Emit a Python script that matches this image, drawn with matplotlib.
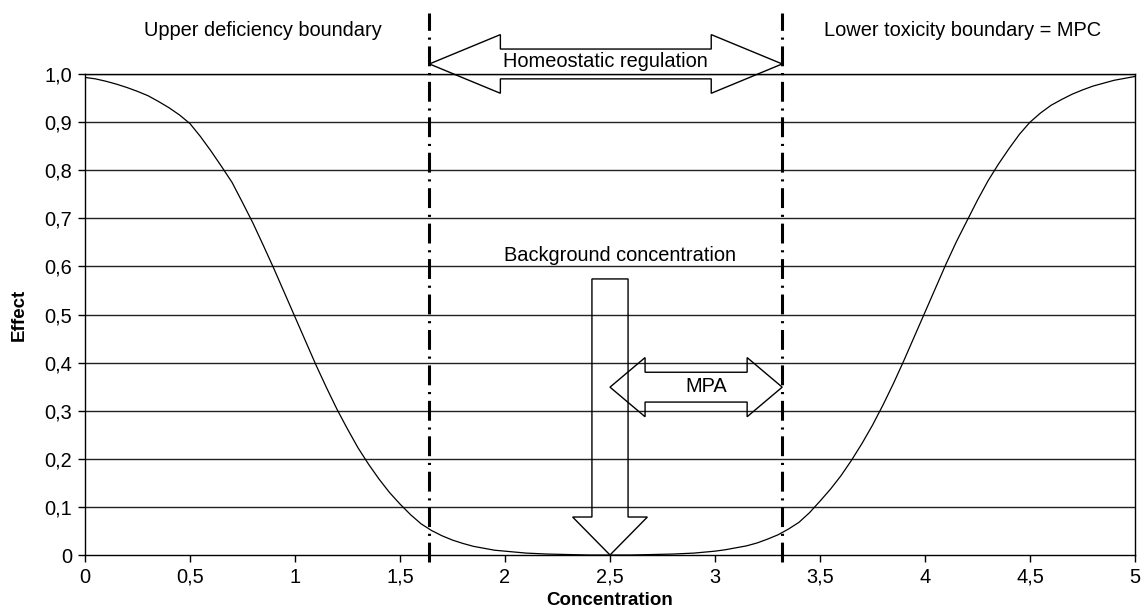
import matplotlib
matplotlib.use("Agg")
import matplotlib.pyplot as plt
from matplotlib.patches import Polygon

plt.rcParams['font.family'] = ['Liberation Sans', 'DejaVu Sans']

# effect curve (step 0.05)
concentration = [0.00, 0.05, 0.10, 0.15, 0.20, 0.25, 0.30, 0.35, 0.40, 0.45,
                 0.50, 0.55, 0.60, 0.65, 0.70, 0.75, 0.80, 0.85, 0.90, 0.95,
                 1.00, 1.05, 1.10, 1.15, 1.20, 1.25, 1.30, 1.35, 1.40, 1.45,
                 1.50, 1.55, 1.60, 1.65, 1.70, 1.75, 1.80, 1.85, 1.90, 1.95,
                 2.00, 2.05, 2.10, 2.15, 2.20, 2.30, 2.40, 2.50, 2.60, 2.70,
                 2.80, 2.85, 2.90, 2.95, 3.00, 3.05, 3.10, 3.15, 3.20, 3.25,
                 3.30, 3.35, 3.40, 3.45, 3.50, 3.55, 3.60, 3.65, 3.70, 3.75,
                 3.80, 3.85, 3.90, 3.95, 4.00, 4.05, 4.10, 4.15, 4.20, 4.25,
                 4.30, 4.35, 4.40, 4.45, 4.50, 4.55, 4.60, 4.65, 4.70, 4.75,
                 4.80, 4.85, 4.90, 4.95, 5.00]
effect = [0.993, 0.990, 0.985, 0.979, 0.972, 0.964, 0.955, 0.943, 0.930, 0.915,
          0.897, 0.870, 0.840, 0.808, 0.775, 0.733, 0.690, 0.643, 0.595, 0.545,
          0.495, 0.445, 0.395, 0.348, 0.303, 0.262, 0.223, 0.189, 0.158, 0.130,
          0.106, 0.084, 0.065, 0.051, 0.040, 0.031, 0.024, 0.018, 0.014, 0.010,
          0.008, 0.006, 0.004, 0.003, 0.002, 0.001, 0.000, 0.000, 0.000, 0.001,
          0.002, 0.003, 0.004, 0.006, 0.008, 0.011, 0.015, 0.019, 0.025, 0.033,
          0.042, 0.054, 0.068, 0.088, 0.112, 0.137, 0.165, 0.197, 0.232, 0.270,
          0.312, 0.357, 0.405, 0.455, 0.505, 0.555, 0.605, 0.652, 0.695, 0.738,
          0.778, 0.813, 0.845, 0.875, 0.900, 0.919, 0.935, 0.947, 0.958, 0.967,
          0.975, 0.981, 0.987, 0.991, 0.995]

x_ticks = [0, 0.5, 1, 1.5, 2, 2.5, 3, 3.5, 4, 4.5, 5]
x_tick_labels = ['0', '0,5', '1', '1,5', '2', '2,5', '3', '3,5', '4', '4,5', '5']
y_ticks = [0, 0.1, 0.2, 0.3, 0.4, 0.5, 0.6, 0.7, 0.8, 0.9, 1.0]
y_tick_labels = ['0', '0,1', '0,2', '0,3', '0,4', '0,5', '0,6', '0,7', '0,8', '0,9', '1,0']

# boundaries (concentration)
lower_boundary = 1.64
upper_boundary = 3.32
background = 2.5

FS = 14.4


def double_arrow(x0, x1, yc, head_len, head_half, shaft_half):
    return [(x0, yc), (x0 + head_len, yc + head_half), (x0 + head_len, yc + shaft_half),
            (x1 - head_len, yc + shaft_half), (x1 - head_len, yc + head_half), (x1, yc),
            (x1 - head_len, yc - head_half), (x1 - head_len, yc - shaft_half),
            (x0 + head_len, yc - shaft_half), (x0 + head_len, yc - head_half)]


fig = plt.figure(figsize=(11.42, 6.13), dpi=100)
ax = fig.add_axes([0.0744, 0.0946, 0.9195, 0.7846])

for y in y_ticks[1:]:
    ax.axhline(y, color='#222222', lw=1.0, zorder=1)

ax.plot(concentration, effect, color='black', lw=0.9, zorder=3)

# vertical boundary lines
for xb in (lower_boundary, upper_boundary):
    ax.plot([xb, xb], [-0.015, 1.127], color='black', lw=2.2,
            linestyle=(0, (6.5, 2.2, 0.7, 2.2)), clip_on=False, zorder=4)

# homeostatic regulation arrow
ax.add_patch(Polygon(double_arrow(lower_boundary, upper_boundary, 1.021, 0.338, 0.061, 0.031),
                     closed=True, fill=False, edgecolor='black', lw=1.0, clip_on=False, zorder=5))
ax.text(2.476, 1.027, 'Homeostatic regulation', ha='center', va='center', fontsize=FS)

# MPA arrow
ax.add_patch(Polygon(double_arrow(background, upper_boundary, 0.349, 0.167, 0.0615, 0.031),
                     closed=True, fill=False, edgecolor='black', lw=1.0, zorder=5))
ax.text(2.957, 0.351, 'MPA', ha='center', va='center', fontsize=FS)

# background concentration arrow
bg = [(background - 0.086, 0.574), (background + 0.086, 0.574), (background + 0.086, 0.079),
      (background + 0.178, 0.079), (background, 0.0), (background - 0.178, 0.079),
      (background - 0.086, 0.079)]
ax.add_patch(Polygon(bg, closed=True, fill=False, edgecolor='black', lw=1.0, zorder=5))
ax.text(2.55, 0.622, 'Background concentration', ha='center', va='center', fontsize=FS)

ax.text(0.848, 1.091, 'Upper deficiency boundary', ha='center', va='center', fontsize=FS)
ax.text(4.18, 1.091, 'Lower toxicity boundary = MPC', ha='center', va='center', fontsize=FS)

ax.set_xlim(0, 5)
ax.set_ylim(0, 1)
ax.set_xticks(x_ticks)
ax.set_xticklabels(x_tick_labels)
ax.set_yticks(y_ticks)
ax.set_yticklabels(y_tick_labels)
ax.tick_params(direction='out', length=5, width=1, labelsize=FS, pad=4)
for s in ax.spines.values():
    s.set_linewidth(1.0)

ax.set_xlabel('Concentration', fontsize=13.5, fontweight='bold', labelpad=4)
ax.set_ylabel('Effect', fontsize=13.5, fontweight='bold', labelpad=12)

fig.savefig('out.png', dpi=100)
